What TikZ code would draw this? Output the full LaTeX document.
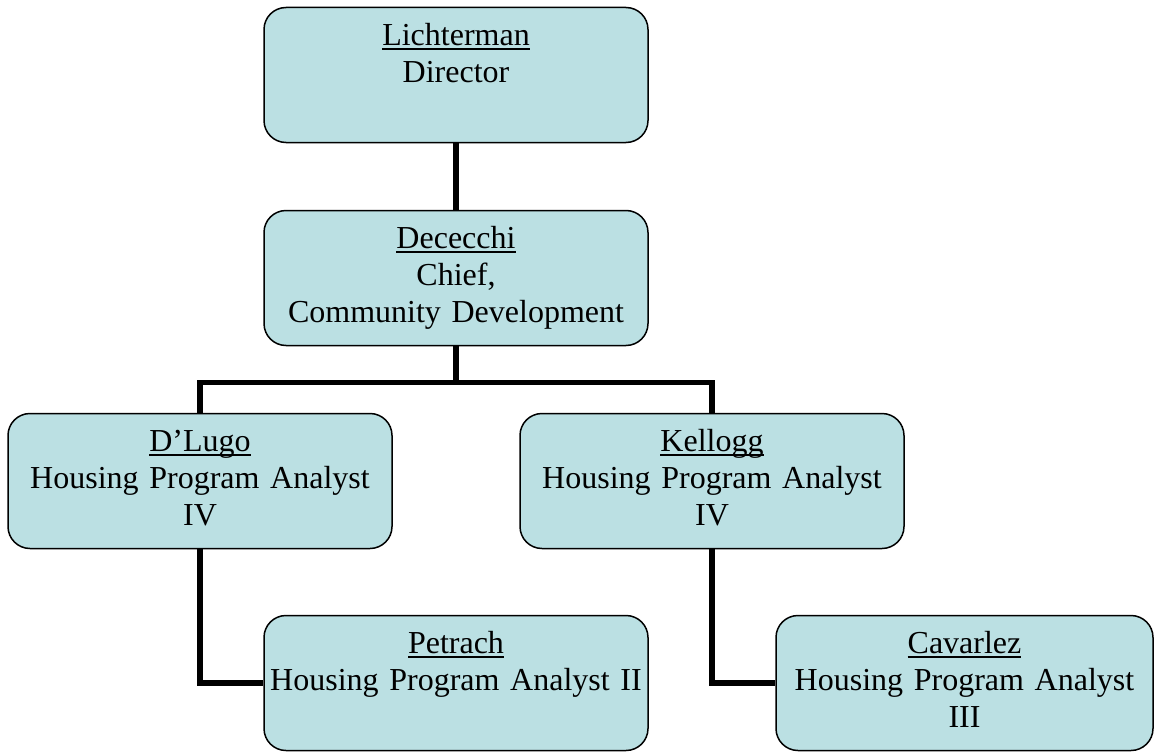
\documentclass[tikz,border=0pt]{standalone}
\usepackage{fontspec}
\setmainfont{Liberation Serif}
\definecolor{boxfill}{RGB}{187,224,227}
\newcommand\ulname[1]{\setbox0\hbox{#1}\rlap{\rule[-4pt]{\wd0}{1.5pt}}\box0}
\begin{document}
\begin{tikzpicture}[x=1pt,y=-1pt,
  orgbox/.style={draw=black, line width=1.5pt, fill=boxfill, rounded corners=22pt,
    inner sep=0pt, text width=384pt, align=center, text height=38pt, text depth=97pt,
    font=\fontsize{32}{37}\selectfont},
  connector/.style={line width=5.5pt, line join=miter, line cap=butt}]
\useasboundingbox (0,0) rectangle (1154,752);
\node[orgbox] (L) at (456,75) {\ulname{Lichterman}\\Director};
\node[orgbox] (D) at (456,278) {\ulname{Dececchi}\\Chief,\\Community Development};
\node[orgbox] (DL) at (200,481) {\ulname{D’Lugo}\\Housing Program Analyst\\IV};
\node[orgbox] (K) at (712,481) {\ulname{Kellogg}\\Housing Program Analyst\\IV};
\node[orgbox] (P) at (456,683) {\ulname{Petrach}\\Housing Program Analyst II};
\node[orgbox, text width=377pt] (C) at (964.5,683) {\ulname{Cavarlez}\\Housing Program Analyst\\III};
\draw[connector] (L.south) -- (D.north);
\draw[connector] (D.south) -- ++(0,36) coordinate (bus);
\draw[connector] (DL.north) |- (bus) -| (K.north);
\draw[connector] (DL.south) |- (P.west);
\draw[connector] (K.south) |- (C.west);
\end{tikzpicture}
\end{document}
